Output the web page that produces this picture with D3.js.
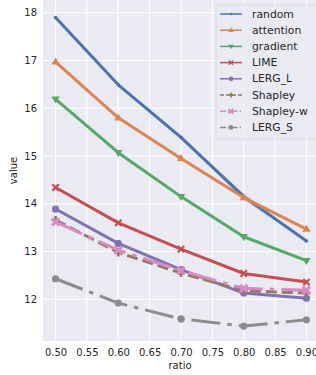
<!DOCTYPE html>
<html>
<head>
<meta charset="utf-8">
<script src="https://cdn.jsdelivr.net/npm/d3@7"></script>
<style>
  body { margin: 0; background: #ffffff; }
  svg { display: block; font-family: "DejaVu Sans", sans-serif; }
</style>
</head>
<body>
<div id="chart"></div>
<script>
// 데이터
const ratios = [0.5, 0.6, 0.7, 0.8, 0.9];
const seriesNames = ['random', 'attention', 'gradient', 'LIME', 'LERG_L', 'Shapley', 'Shapley-w', 'LERG_S'];
const randomVals = [17.90, 16.49, 15.39, 14.15, 13.22];
const randomBand = [0, 0, 0, 0.07, 0];   // random 신뢰구간 반폭
const attentionVals = [16.97, 15.80, 14.95, 14.13, 13.47];
const gradientVals = [16.19, 15.07, 14.15, 13.31, 12.81];
const limeVals = [14.34, 13.60, 13.05, 12.54, 12.36];
const lergLVals = [13.89, 13.17, 12.62, 12.13, 12.02];
const shapleyVals = [13.66, 12.98, 12.55, 12.18, 12.13];
const shapleyWVals = [13.62, 13.03, 12.60, 12.23, 12.19];
const lergSVals = [12.43, 11.92, 11.59, 11.44, 11.57];
const xTicks = [0.50, 0.55, 0.60, 0.65, 0.70, 0.75, 0.80, 0.85, 0.90];
const yTicks = [12, 13, 14, 15, 16, 17, 18];

const allValues = [randomVals, attentionVals, gradientVals, limeVals, lergLVals, shapleyVals, shapleyWVals, lergSVals];
const colors = ['#4c72b0', '#dd8452', '#55a868', '#c44e52', '#8172b3', '#937860', '#da8bc3', '#8c8c8c'];
const markers = ['dot', 'up', 'down', 'x', 'circle', 'plus', 'bigx', 'circle'];
const dashes = [null, null, null, null, null, '11,5', '29,7,4.5,7', '29,7,4.5,7'];

const width = 316, height = 375;
const plot = { left: 43, right: 319, top: 0, bottom: 341 };

const svg = d3.select('#chart').append('svg')
    .attr('width', width)
    .attr('height', height);

const x = d3.scaleLinear().domain([0.48, 0.92]).range([plot.left, plot.right]);
const y = d3.scaleLinear().domain([11.127, 18.266]).range([plot.bottom, plot.top]);

// 배경 + 격자
svg.append('rect')
    .attr('x', plot.left).attr('y', plot.top)
    .attr('width', plot.right - plot.left).attr('height', plot.bottom - plot.top)
    .attr('fill', '#eaeaf2');

svg.append('g').selectAll('line.vgrid')
    .data(xTicks).enter().append('line')
    .attr('x1', d => x(d)).attr('x2', d => x(d))
    .attr('y1', plot.top).attr('y2', plot.bottom)
    .attr('stroke', '#ffffff').attr('stroke-width', 1);

svg.append('g').selectAll('line.hgrid')
    .data(yTicks).enter().append('line')
    .attr('x1', plot.left).attr('x2', plot.right)
    .attr('y1', d => y(d)).attr('y2', d => y(d))
    .attr('stroke', '#ffffff').attr('stroke-width', 1);

// 축 (선 없이 라벨만)
const xAxis = svg.append('g')
    .attr('transform', `translate(0,${plot.bottom})`)
    .call(d3.axisBottom(x).tickValues(xTicks).tickFormat(d3.format('.2f')).tickSize(0).tickPadding(8));
const yAxis = svg.append('g')
    .attr('transform', `translate(${plot.left},0)`)
    .call(d3.axisLeft(y).tickValues(yTicks).tickFormat(d3.format('d')).tickSize(0).tickPadding(6));
[xAxis, yAxis].forEach(a => {
    a.select('.domain').remove();
    a.selectAll('text')
        .attr('fill', '#262626')
        .style('font-size', '10px')
        .style('font-family', '"DejaVu Sans", sans-serif');
});

svg.append('text')
    .attr('x', (plot.left + plot.right) / 2 - 1).attr('y', 369)
    .attr('text-anchor', 'middle')
    .attr('fill', '#262626').style('font-size', '10px')
    .text('ratio');

svg.append('text')
    .attr('transform', `translate(17,${(plot.top + plot.bottom) / 2}) rotate(-90)`)
    .attr('text-anchor', 'middle')
    .attr('fill', '#262626').style('font-size', '10px')
    .text('value');

// 마커 그리기 함수
function drawMarker(g, type, cx, cy, color, s) {
    if (type === 'dot') {
        g.append('circle').attr('cx', cx).attr('cy', cy).attr('r', 1.8 * s).attr('fill', color);
    } else if (type === 'circle') {
        g.append('circle').attr('cx', cx).attr('cy', cy).attr('r', 3.6 * s).attr('fill', color);
    } else if (type === 'up' || type === 'down') {
        const r = 4.4 * s, dir = type === 'up' ? 1 : -1;
        const pts = [[cx, cy - dir * r], [cx - r * 0.95, cy + dir * r * 0.6], [cx + r * 0.95, cy + dir * r * 0.6]];
        g.append('path').attr('d', 'M' + pts.join('L') + 'Z').attr('fill', color);
    } else if (type === 'x') {
        const r = 3.2 * s;
        g.append('path')
            .attr('d', `M${cx - r},${cy - r}L${cx + r},${cy + r}M${cx - r},${cy + r}L${cx + r},${cy - r}`)
            .attr('stroke', color).attr('stroke-width', 2.2 * s).attr('fill', 'none');
    } else if (type === 'plus') {
        const r = 4 * s;
        g.append('path')
            .attr('d', `M${cx - r},${cy}L${cx + r},${cy}M${cx},${cy - r}L${cx},${cy + r}`)
            .attr('stroke', color).attr('stroke-width', 2.6 * s).attr('fill', 'none');
    } else if (type === 'bigx') {
        const r = 3.6 * s;
        g.append('path')
            .attr('d', `M${cx - r},${cy - r}L${cx + r},${cy + r}M${cx - r},${cy + r}L${cx + r},${cy - r}`)
            .attr('stroke', color).attr('stroke-width', 3 * s).attr('fill', 'none');
    }
}

const line = d3.line().x(d => x(d[0])).y(d => y(d[1]));

// random 신뢰구간 띠
const bandArea = d3.area()
    .x((d, i) => x(ratios[i]))
    .y0((d, i) => y(randomVals[i] - randomBand[i]))
    .y1((d, i) => y(randomVals[i] + randomBand[i]));
svg.append('path')
    .attr('d', bandArea(randomVals))
    .attr('fill', colors[0]).attr('opacity', 0.25);

// 시리즈 선 + 마커
allValues.forEach((vals, k) => {
    const g = svg.append('g').attr('class', 'series');
    const pts = vals.map((v, i) => [ratios[i], v]);
    g.append('path')
        .attr('d', line(pts))
        .attr('fill', 'none')
        .attr('stroke', colors[k])
        .attr('stroke-width', 3)
        .attr('stroke-dasharray', dashes[k])
        .attr('stroke-linejoin', 'round');
    pts.forEach(p => drawMarker(g, markers[k], x(p[0]), y(p[1]), colors[k], 1));
});

// 범례
const legend = svg.append('g');
legend.append('rect')
    .attr('x', 216).attr('y', 5).attr('width', 110).attr('height', 134).attr('rx', 3)
    .attr('fill', '#eaeaf2').attr('fill-opacity', 0.85)
    .attr('stroke', '#d6d6de').attr('stroke-width', 0.8);

seriesNames.forEach((name, i) => {
    const cy = 14 + i * 16.2;
    legend.append('line')
        .attr('x1', 220).attr('x2', 242).attr('y1', cy).attr('y2', cy)
        .attr('stroke', colors[i]).attr('stroke-width', 1.5)
        .attr('stroke-dasharray', dashes[i] ? (i === 5 ? '4,2' : '6,2,1.5,2') : null);
    drawMarker(legend, markers[i], 231, cy, colors[i], 0.65);
    legend.append('text')
        .attr('x', 252).attr('y', cy)
        .attr('dominant-baseline', 'central')
        .attr('fill', '#262626').style('font-size', '10.8px')
        .text(name);
});
</script>
</body>
</html>
